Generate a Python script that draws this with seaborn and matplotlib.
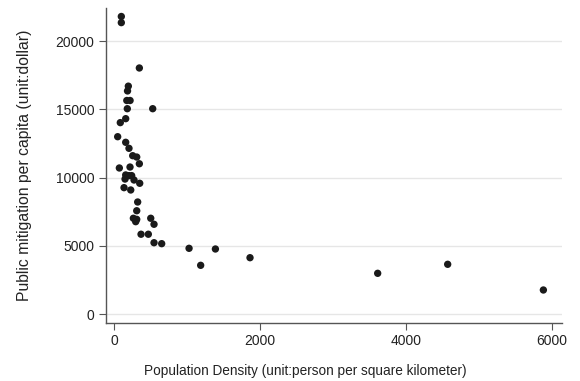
import matplotlib
matplotlib.use("Agg")
import matplotlib.pyplot as plt
import seaborn as sns
import pandas as pd

density = [100, 100, 347, 196, 185, 175, 220, 182, 530, 160, 86, 50, 160, 205,
           256, 311, 347, 73, 219, 160, 205, 242, 151, 274, 352, 137, 229, 324,
           311, 265, 311, 297, 503, 548, 370, 470, 548, 653, 1028, 1187, 1389,
           1863, 3612, 4571, 5882]
mitigation = [21800, 21350, 18030, 16700, 16350, 15650, 15650, 15050, 15050,
              14320, 14030, 13000, 12590, 12150, 11610, 11510, 11020, 10710,
              10780, 10200, 10150, 10150, 9900, 9830, 9590, 9270, 9100, 8220,
              7580, 7030, 6950, 6780, 7030, 6590, 5860, 5860, 5240, 5170, 4830,
              3585, 4780, 4143, 3000, 3660, 1779]
x_ticks = [0, 2000, 4000, 6000]
y_ticks = [0, 5000, 10000, 15000, 20000]

df = pd.DataFrame({"density": density, "mitigation": mitigation})

sns.set_theme(style="white")
plt.rcParams['font.family'] = ['Liberation Sans', 'DejaVu Sans']

W, H = 580, 381
fig = plt.figure(figsize=(W / 100, H / 100), dpi=100)
ax = fig.add_axes([105.7/W, 1 - 322.7/H, (561.7-105.7)/W, (322.7-8)/H])

sns.scatterplot(data=df, x="density", y="mitigation", ax=ax, s=28,
                color="#1a1a1a", edgecolor="none", linewidth=0, zorder=3)

ax.set_xlim(-114, 6133)
ax.set_ylim(-615, 22421)
ax.set_xticks(x_ticks)
ax.set_yticks(y_ticks)
ax.set_xticklabels([str(t) for t in x_ticks])
ax.set_yticklabels([str(t) for t in y_ticks])
ax.yaxis.grid(True, color="#e6e6e6", linewidth=1.0)
ax.xaxis.grid(False)
ax.set_axisbelow(True)

for s in ["top", "right"]:
    ax.spines[s].set_visible(False)
for s in ["left", "bottom"]:
    ax.spines[s].set_color("#555555")
    ax.spines[s].set_linewidth(1.0)

ax.tick_params(axis="both", which="major", direction="out", length=5, width=0.8,
               color="#555555", labelsize=10, labelcolor="#222222",
               bottom=True, left=True, pad=3)

ax.set_xlabel("")
ax.set_ylabel("")
fig.text(305/W, 1 - 371/H, "Population Density (unit:person per square kilometer)",
         ha="center", va="center", fontsize=9.8, color="#222222")
fig.text(25/W, 1 - 165/H, "Public mitigation per capita (unit:dollar)",
         ha="center", va="center", rotation=90, fontsize=11.3, color="#222222")

fig.savefig("out.png", dpi=100)
